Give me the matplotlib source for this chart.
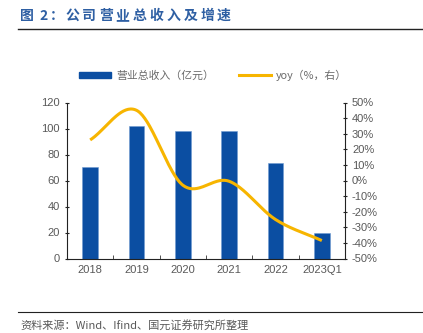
import matplotlib
matplotlib.use("Agg")
import matplotlib.pyplot as plt
import numpy as np
from matplotlib.lines import Line2D
from matplotlib.patches import Patch

plt.rcParams['font.family'] = ['Liberation Sans', 'Noto Sans CJK SC', 'DejaVu Sans']

categories = ['2018', '2019', '2020', '2021', '2022', '2023Q1']
revenue = [70.5, 102.0, 98.3, 98.1, 73.2, 19.6]
yoy = [26.0, 45.0, -3.0, -0.5, -25.0, -38.5]
left_ticks = [0, 20, 40, 60, 80, 100, 120]
right_ticks = [-50, -40, -30, -20, -10, 0, 10, 20, 30, 40, 50]
title = '图 2：公司营业总收入及增速'
source = '资料来源：Wind、Ifind、国元证券研究所整理'

BAR = '#0B4EA2'
LINE = '#F7B500'
GRAY = '#595959'
CJK = ['Noto Sans CJK SC', 'DejaVu Sans']

fig = plt.figure(figsize=(4.23, 3.33), dpi=100)
ax = fig.add_axes([67/423, 1-258.5/333, (345-67)/423, (258.5-102.5)/333])
x = np.arange(len(categories))
ax.bar(x, revenue, width=0.345, color=BAR, edgecolor='#6F9BD1', linewidth=0.4, zorder=2)
ax.set_xlim(-0.5, len(categories)-0.5)
ax.set_ylim(0, 120)
ax.set_yticks(left_ticks)
ax.set_xticks(x)
ax.set_xticklabels(categories)
ax.set_xticks(np.arange(-0.5, len(categories), 1.0), minor=True)
ax.tick_params(axis='x', which='major', length=0, colors=GRAY, labelsize=8, pad=5)
ax.tick_params(axis='x', which='minor', length=3, direction='in', color='#333333')
ax.tick_params(axis='y', length=3, direction='inout', colors=GRAY, labelsize=8, labelcolor=GRAY)
ax.tick_params(axis='y', color='#222222')
for s in ['top', 'right']:
    ax.spines[s].set_visible(False)
ax.spines['left'].set_color('#222222')
ax.spines['bottom'].set_color('#222222')

ax2 = ax.twinx()
ax2.set_ylim(-50, 50)
ax2.set_yticks(right_ticks)
ax2.set_yticklabels([f'{v}%' for v in right_ticks])
ax2.tick_params(axis='y', length=3, direction='inout', color='#222222', labelsize=8, labelcolor=GRAY)
for s in ['top', 'left', 'bottom']:
    ax2.spines[s].set_visible(False)
ax2.spines['right'].set_color('#222222')

# Smoothed line (Catmull-Rom style, like Excel smooth lines)
p = np.array(yoy, dtype=float)
n = len(p)
m = np.zeros(n)
m[0] = p[1]-p[0]
m[-1] = p[-1]-p[-2]
for i in range(1, n-1):
    m[i] = (p[i+1]-p[i-1])/2
xs, ys = [], []
for i in range(n-1):
    t = np.linspace(0, 1, 40)
    h00 = 2*t**3-3*t**2+1
    h10 = t**3-2*t**2+t
    h01 = -2*t**3+3*t**2
    h11 = t**3-t**2
    xs.append(x[i]+t)
    ys.append(h00*p[i]+h10*m[i]+h01*p[i+1]+h11*m[i+1])
ax2.plot(np.concatenate(xs), np.concatenate(ys), color=LINE, lw=2.2, solid_capstyle='butt', zorder=3)

# Legend
handles = [Patch(facecolor=BAR, edgecolor=BAR), Line2D([0], [0], color=LINE, lw=2.2)]
labels = ['营业总收入（亿元）', 'yoy（%，右）']
fig.legend(handles, labels, loc='center', bbox_to_anchor=(213/423, 1-75/333), ncol=2, frameon=False,
           labelcolor='#6a6a6a', handlelength=3.0, handleheight=0.55, columnspacing=2.3,
           handletextpad=0.45, prop={'family': CJK, 'size': 7.8})

# Title (letter-spaced, like the original)
positions = {0: 20, 1: 33, 2: 39, 3: 50}
pitch = 16.9
for i, ch in enumerate(title):
    if i in positions:
        px = positions[i]
    else:
        px = 65 + (i-4)*pitch
    fig.text(px/423, 1-16/333, ch, fontsize=10, fontweight='bold', color='#2E5FA3',
             va='center', ha='left', family=CJK)
fig.add_artist(Line2D([18/423, 1.0], [1-29/333, 1-29/333], color='#222222', lw=1.0))
fig.add_artist(Line2D([18/423, 1.0], [1-312/333, 1-312/333], color='#222222', lw=0.8))
fig.text(20/423, 1-325/333, source, fontsize=8, color=GRAY,
         va='center', ha='left', family=CJK)

fig.savefig('out.png', dpi=100)
